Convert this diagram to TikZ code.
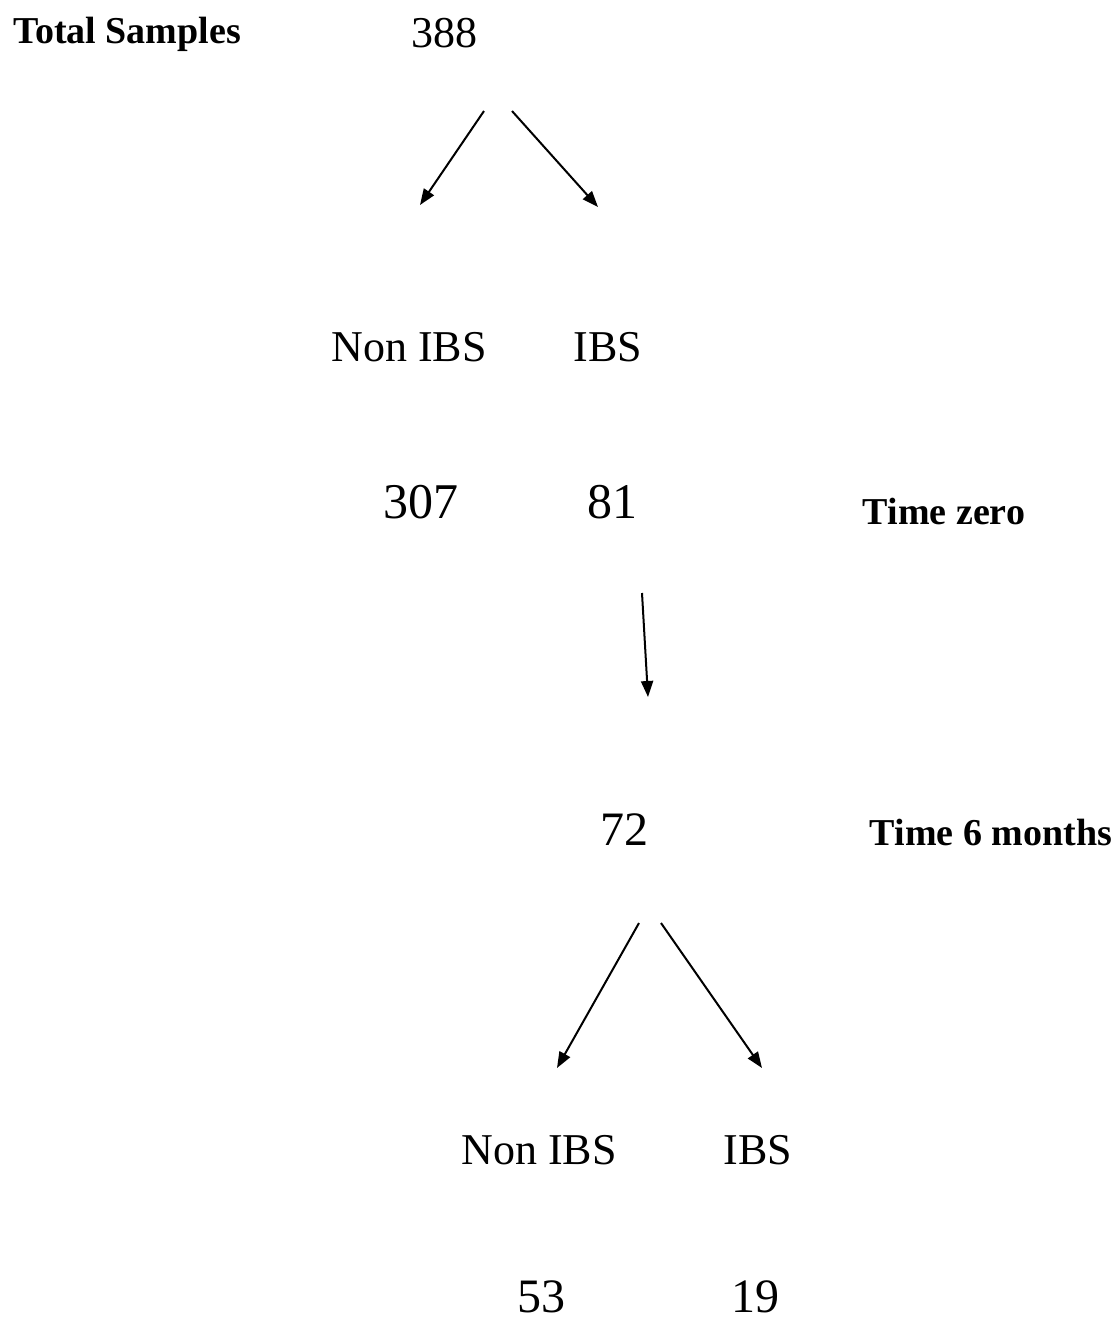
\documentclass[tikz,border=0pt]{standalone}
\usepackage{fontspec}
\setmainfont{Liberation Serif}
\usetikzlibrary{arrows.meta}
\begin{document}
\begin{tikzpicture}[x=0.5pt,y=-0.5pt,
  lbl/.style={anchor=base,inner sep=0pt,font=\fontsize{22}{24}\selectfont},
  num/.style={anchor=base,inner sep=0pt,font=\fontsize{24}{26}\selectfont},
  bigl/.style={anchor=base,inner sep=0pt,font=\bfseries\fontsize{19}{21}\selectfont},
  arr/.style={line width=1pt,-{Triangle[length=8pt,width=6pt]}}]
\useasboundingbox[fill=white] (0,0) rectangle (1118,1324);
\node[bigl] (total) at (127,43) {Total Samples};
\node[num,font=\fontsize{22}{24}\selectfont] (n388) at (444,47) {388};
\node[lbl] (non1) at (409,361) {Non IBS};
\node[lbl] (ibs1) at (608,361) {IBS};
\node[num,font=\fontsize{25}{27}\selectfont] (n307) at (421,518) {307};
\node[num,font=\fontsize{25}{27}\selectfont] (n81) at (612,518) {81};
\node[bigl] (t0) at (944,524) {Time zero};
\node[num] (n72) at (624,845) {72};
\node[bigl] (t6) at (991,845) {Time 6 months};
\node[lbl] (non2) at (539,1164) {Non IBS};
\node[lbl] (ibs2) at (758,1164) {IBS};
\node[num] (n53) at (541,1312) {53};
\node[num] (n19) at (755,1312) {19};
\coordinate (a1s) at (484,111);
\coordinate (a1e) at (420,205);
\coordinate (a2s) at (512,111);
\coordinate (a2e) at (598,207);
\coordinate (a3s) at (642,593);
\coordinate (a3e) at (648,697);
\coordinate (a4s) at (639,923);
\coordinate (a4e) at (557,1068);
\coordinate (a5s) at (661,923);
\coordinate (a5e) at (762,1068);
\draw[arr] (a1s) -- (a1e);
\draw[arr] (a2s) -- (a2e);
\draw[arr] (a3s) -- (a3e);
\draw[arr] (a4s) -- (a4e);
\draw[arr] (a5s) -- (a5e);
\end{tikzpicture}
\end{document}
